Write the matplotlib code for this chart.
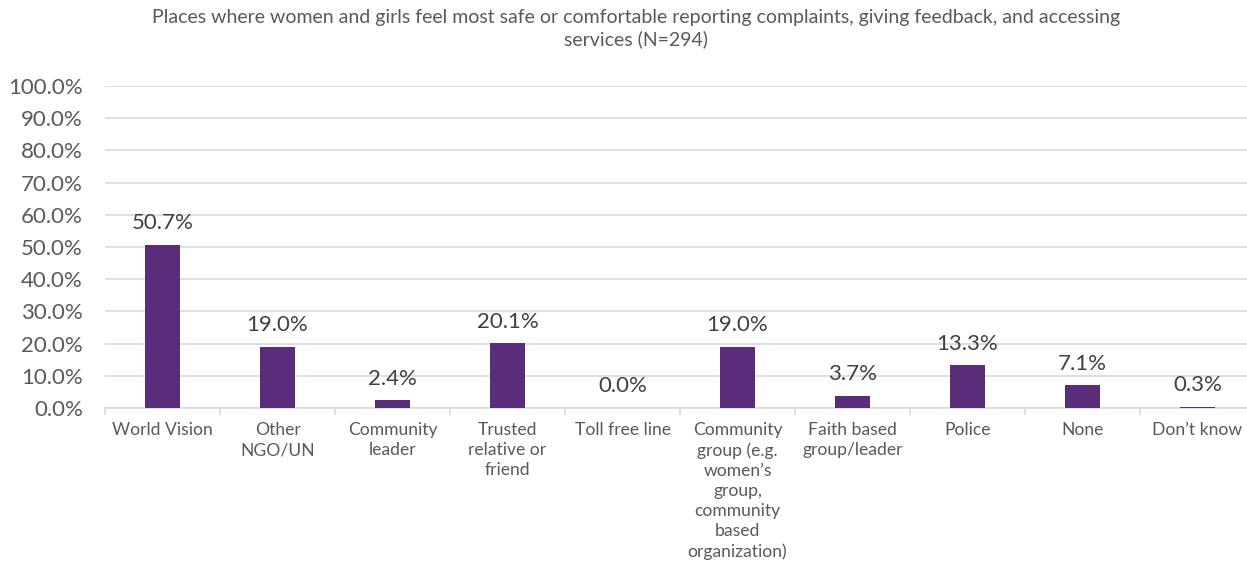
import matplotlib.pyplot as plt
from matplotlib.ticker import FuncFormatter

# datos
categorias = ['World Vision', 'Other\nNGO/UN', 'Community\nleader', 'Trusted\nrelative or\nfriend',
              'Toll free line', 'Community\ngroup (e.g.\nwomen\u2019s\ngroup,\ncommunity\nbased\norganization)',
              'Faith based\ngroup/leader', 'Police', 'None', 'Don\u2019t know']
valores = [50.7, 19.0, 2.4, 20.1, 0.0, 19.0, 3.7, 13.3, 7.1, 0.3]
titulo = ('Places where women and girls feel most safe or comfortable reporting complaints, giving feedback, and accessing\n'
          'services (N=294)')

plt.rcParams['font.family'] = ['Lato', 'DejaVu Sans']
gris = '#595959'

fig = plt.figure(figsize=(12.47, 5.65), dpi=100)
ax = fig.add_axes([105 / 1247, 1 - 408 / 565, 1150 / 1247, (408 - 86) / 565])

x = range(len(categorias))
barras = ax.bar(x, valores, width=0.31, color='#5A2D7A', zorder=3)

for xi, v in zip(x, valores):
    ax.text(xi, v + 3.6, f'{v:.1f}%', ha='center', va='bottom', fontsize=16, color='#404040')

ax.set_ylim(0, 100)
ax.set_xlim(-0.5, len(categorias) - 0.5)
ax.set_yticks(range(0, 101, 10))
ax.yaxis.set_major_formatter(FuncFormatter(lambda v, p: f'{v:.1f}%'))
ax.grid(axis='y', color='#D9D9D9', linewidth=1.2, zorder=0)

# separadores entre categorias
ax.set_xticks([i + 0.5 for i in range(-1, len(categorias))], minor=False)
ax.set_xticklabels([])
ax.tick_params(axis='x', length=5, color='#D9D9D9', width=1.2)
ax.set_xticks(list(x), minor=True)
ax.set_xticklabels(categorias, minor=True, fontsize=12.6, color=gris, linespacing=1.32, va='top')
ax.tick_params(axis='x', which='minor', length=0, pad=10)
ax.tick_params(axis='y', length=0, labelsize=16, labelcolor=gris, pad=16)

for lado in ['top', 'right', 'left']:
    ax.spines[lado].set_visible(False)
ax.spines['bottom'].set_color('#D9D9D9')
ax.spines['bottom'].set_linewidth(1.2)

fig.text(636 / 1247, 1 - 9 / 565, titulo, ha='center', va='top', fontsize=14, color=gris, linespacing=1.3)

fig.savefig('out.png', dpi=100)
